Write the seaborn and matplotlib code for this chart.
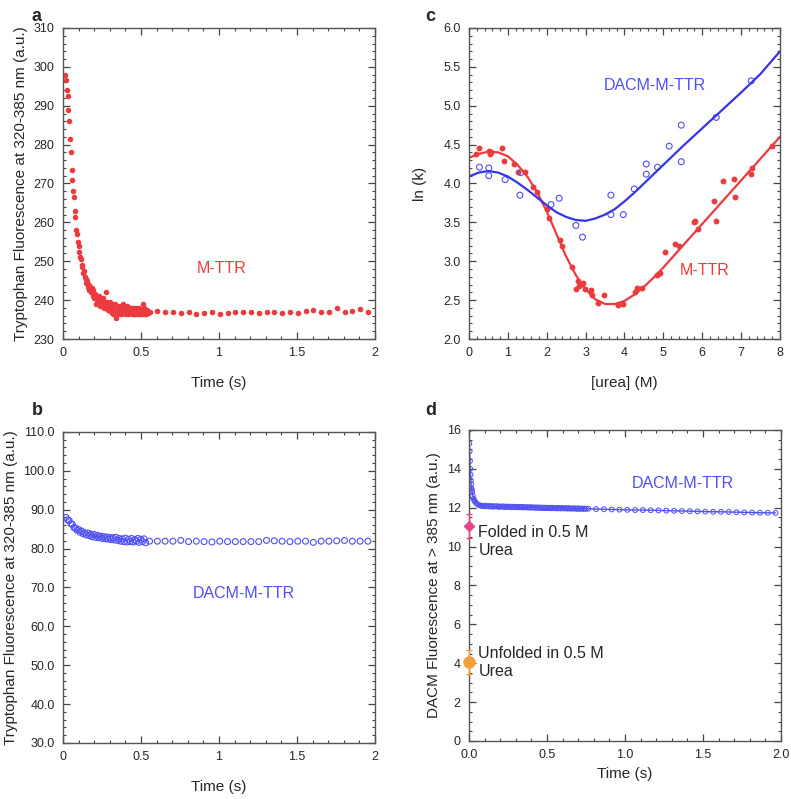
import numpy as np
import pandas as pd
import matplotlib
matplotlib.use("Agg")
import matplotlib.pyplot as plt
from matplotlib.ticker import MultipleLocator
import seaborn as sns

# colores
rojo = "#EC3B3F"
azul = "#4F4FF2"
azul_linea = "#3535E8"
rosa = "#E8448A"
naranja = "#F2A03C"

# ---------- panel a: M-TTR (triptofano) ----------
a_t = [0.015, 0.020, 0.025, 0.030, 0.035, 0.040, 0.045, 0.050, 0.055, 0.060,
       0.065, 0.070, 0.075, 0.080, 0.085, 0.090, 0.095, 0.100, 0.105, 0.110,
       0.115, 0.120, 0.125, 0.130, 0.135, 0.140, 0.145, 0.150, 0.155, 0.160,
       0.165, 0.170, 0.175, 0.180, 0.185, 0.190, 0.195, 0.200, 0.205, 0.210,
       0.215, 0.220, 0.225, 0.230, 0.235, 0.240, 0.245, 0.250, 0.255, 0.260,
       0.265, 0.270, 0.275, 0.280, 0.285, 0.290, 0.295, 0.300, 0.305, 0.310,
       0.315, 0.320, 0.325, 0.330, 0.335, 0.340, 0.345, 0.350, 0.355, 0.360,
       0.365, 0.370, 0.375, 0.380, 0.385, 0.390, 0.395, 0.400, 0.405, 0.410,
       0.415, 0.420, 0.425, 0.430, 0.435, 0.440, 0.445, 0.450, 0.455, 0.460,
       0.465, 0.470, 0.475, 0.480, 0.485, 0.490, 0.495, 0.500, 0.505, 0.510,
       0.515, 0.520, 0.525, 0.530, 0.535, 0.540, 0.545,
       0.555, 0.605, 0.655, 0.705, 0.755, 0.805, 0.855, 0.905, 0.955, 1.005,
       1.055, 1.105, 1.155, 1.205, 1.255, 1.305, 1.355, 1.405, 1.455, 1.505,
       1.555, 1.605, 1.655, 1.705, 1.755, 1.805, 1.855, 1.905, 1.955]
a_f = [298.0, 296.5, 294.0, 292.5, 289.0, 286.0, 281.5, 278.0, 273.5, 271.0,
       268.0, 266.5, 263.0, 261.5, 258.0, 257.0, 255.0, 254.0, 252.5, 251.0,
       250.5, 249.0, 248.5, 247.0, 247.5, 246.0, 245.5, 244.5, 245.0, 243.5,
       244.0, 242.5, 243.5, 242.0, 243.0, 241.0, 242.5, 240.5, 241.5, 239.0,
       241.0, 240.0, 239.5, 241.0, 238.5, 240.0, 239.5, 238.5, 240.5, 239.0,
       238.0, 239.5, 242.0, 238.5, 239.5, 237.5, 238.5, 239.5, 237.0, 238.0,
       239.0, 236.5, 238.5, 237.5, 239.0, 235.5, 237.0, 238.5, 236.5, 237.5,
       238.0, 236.5, 238.5, 237.0, 239.0, 237.5, 236.5, 238.0, 237.0, 238.5,
       237.5, 236.5, 238.0, 237.0, 238.0, 236.5, 237.5, 238.0, 236.5, 237.5,
       236.5, 238.0, 237.0, 236.5, 238.0, 237.0, 236.5, 237.5, 236.5, 239.0,
       237.0, 238.0, 236.5, 237.0, 236.5, 237.5, 236.8,
       236.9, 237.2, 236.9, 236.9, 236.8, 236.9, 236.5, 236.8, 236.9, 236.5,
       236.8, 237.0, 236.9, 236.9, 236.6, 236.9, 237.0, 236.6, 236.9, 236.8,
       237.2, 237.5, 236.9, 236.9, 237.9, 236.9, 237.2, 237.6, 237.0]

# ---------- panel b: DACM-M-TTR (triptofano) ----------
b_t = [0.02, 0.03, 0.04, 0.05, 0.06, 0.07, 0.08, 0.09, 0.10, 0.11,
       0.12, 0.13, 0.14, 0.15, 0.16, 0.17, 0.18, 0.19, 0.20, 0.21,
       0.22, 0.23, 0.24, 0.25, 0.26, 0.27, 0.28, 0.29, 0.30, 0.31,
       0.32, 0.33, 0.34, 0.35, 0.36, 0.37, 0.38, 0.39, 0.40, 0.41,
       0.42, 0.43, 0.44, 0.45, 0.46, 0.47, 0.48, 0.49, 0.50, 0.51,
       0.52, 0.53,
       0.555, 0.605, 0.655, 0.705, 0.755, 0.805, 0.855, 0.905, 0.955, 1.005,
       1.055, 1.105, 1.155, 1.205, 1.255, 1.305, 1.355, 1.405, 1.455, 1.505,
       1.555, 1.605, 1.655, 1.705, 1.755, 1.805, 1.855, 1.905, 1.955]
b_f = [88.0, 87.4, 87.2, 86.4, 86.2, 85.4, 85.3, 84.7, 84.9, 84.2,
       84.5, 83.8, 84.1, 83.5, 84.0, 83.3, 83.7, 83.0, 83.6, 82.9,
       83.4, 82.8, 83.2, 82.6, 83.1, 82.5, 83.0, 82.4, 82.9, 82.3,
       82.8, 82.2, 82.9, 82.1, 82.6, 81.9, 82.5, 81.8, 82.7, 81.7,
       82.4, 81.8, 82.6, 81.7, 82.3, 81.9, 82.6, 81.6, 82.4, 81.8,
       82.5, 81.5,
       81.9, 81.9, 81.9, 81.9, 82.1, 81.8, 81.9, 81.8, 81.7, 81.9,
       81.8, 81.8, 81.8, 81.8, 81.8, 82.1, 82.0, 81.9, 81.8, 81.9,
       81.9, 81.6, 81.9, 81.9, 82.0, 82.1, 81.9, 81.9, 81.9]

# ---------- panel c: ln(k) vs urea ----------
c_urea_m = [0.18, 0.27, 0.51, 0.54, 0.57, 0.84, 0.89, 1.15, 1.25, 1.44,
            1.64, 1.74, 2.00, 2.05, 2.35, 2.39, 2.65, 2.75, 2.80, 2.84,
            2.90, 2.94, 2.99, 3.14, 3.17, 3.33, 3.48, 3.83, 3.97, 4.28,
            4.31, 4.44, 4.83, 4.92, 5.04, 5.31, 5.41, 5.79, 5.81, 5.88,
            6.30, 6.35, 6.54, 6.81, 6.83, 7.26, 7.29, 7.80]
c_lnk_m = [4.38, 4.46, 4.42, 4.38, 4.40, 4.46, 4.29, 4.25, 4.15, 4.15,
           3.96, 3.89, 3.67, 3.55, 3.27, 3.20, 2.93, 2.64, 2.74, 2.68,
           2.71, 2.72, 2.64, 2.63, 2.57, 2.46, 2.56, 2.44, 2.45, 2.60,
           2.65, 2.65, 2.82, 2.85, 3.12, 3.22, 3.20, 3.51, 3.52, 3.41,
           3.78, 3.52, 4.03, 4.06, 3.83, 4.12, 4.20, 4.48]
c_urea_d = [0.27, 0.51, 0.51, 0.93, 1.31, 1.33, 2.11, 2.32, 2.75, 2.92,
            3.65, 3.65, 3.97, 4.25, 4.56, 4.56, 4.85, 5.15, 5.46, 5.46,
            6.36, 7.26]
c_lnk_d = [4.21, 4.20, 4.10, 4.05, 3.85, 4.14, 3.73, 3.81, 3.46, 3.31,
           3.85, 3.60, 3.60, 3.93, 4.25, 4.12, 4.21, 4.48, 4.75, 4.28,
           4.85, 5.32]
# curvas de ajuste
fit_urea = [0.0, 0.25, 0.5, 0.75, 1.0, 1.25, 1.5, 1.75, 2.0, 2.25, 2.5, 2.75,
            3.0, 3.25, 3.5, 3.75, 4.0, 4.25, 4.5, 4.75, 5.0, 5.5, 6.0, 6.5,
            7.0, 7.5, 8.0]
fit_m = [4.33, 4.38, 4.41, 4.40, 4.35, 4.24, 4.09, 3.89, 3.64, 3.35, 3.06, 2.82,
         2.64, 2.51, 2.45, 2.45, 2.49, 2.57, 2.67, 2.79, 2.92, 3.20, 3.48, 3.76,
         4.04, 4.32, 4.60]
fit_d = [4.09, 4.14, 4.16, 4.14, 4.09, 4.01, 3.92, 3.82, 3.72, 3.63, 3.57, 3.53,
         3.52, 3.55, 3.60, 3.67, 3.77, 3.88, 4.00, 4.12, 4.24, 4.48, 4.71, 4.94,
         5.17, 5.41, 5.70]

# ---------- panel d: DACM fluorescence ----------
d_t = [0.000, 0.002, 0.004, 0.006, 0.008, 0.010, 0.012, 0.014, 0.016, 0.018,
       0.020, 0.025, 0.030, 0.035, 0.040, 0.050, 0.060, 0.070,
       0.08, 0.09, 0.10, 0.11, 0.12, 0.13, 0.14, 0.15, 0.16, 0.17,
       0.18, 0.19, 0.20, 0.21, 0.22, 0.23, 0.24, 0.25, 0.26, 0.27,
       0.28, 0.29, 0.30, 0.31, 0.32, 0.33, 0.34, 0.35, 0.36, 0.37,
       0.38, 0.39, 0.40, 0.41, 0.42, 0.43, 0.44, 0.45, 0.46, 0.47,
       0.48, 0.49, 0.50, 0.51, 0.52, 0.53, 0.54, 0.55, 0.56, 0.57,
       0.58, 0.59, 0.60, 0.61, 0.62, 0.63, 0.64, 0.65, 0.66, 0.67,
       0.68, 0.69, 0.70, 0.71, 0.72, 0.73, 0.74, 0.75,
       0.765, 0.815, 0.865, 0.915, 0.965, 1.015, 1.065, 1.115, 1.165, 1.215,
       1.265, 1.315, 1.365, 1.415, 1.465, 1.515, 1.565, 1.615, 1.665, 1.715,
       1.765, 1.815, 1.865, 1.915, 1.965]
d_f = [16.0, 15.3, 14.9, 14.4, 14.0, 13.7, 13.4, 13.2, 13.0, 12.9,
       12.8, 12.6, 12.45, 12.35, 12.3, 12.2, 12.15, 12.12,
       12.10, 12.08, 12.11, 12.07, 12.09, 12.06, 12.09, 12.05, 12.08, 12.06,
       12.08, 12.04, 12.07, 12.05, 12.07, 12.03, 12.06, 12.04, 12.06, 12.02,
       12.05, 12.03, 12.05, 12.02, 12.04, 12.02, 12.04, 12.01, 12.03, 12.01,
       12.03, 12.00, 12.03, 12.00, 12.02, 11.99, 12.02, 11.99, 12.01, 11.98,
       12.01, 11.98, 12.00, 11.98, 12.00, 11.97, 12.00, 11.97, 11.99, 11.96,
       11.99, 11.96, 11.98, 11.96, 11.98, 11.95, 11.98, 11.95, 11.97, 11.95,
       11.97, 11.94, 11.97, 11.94, 11.96, 11.94, 11.96, 11.94,
       11.95, 11.93, 11.92, 11.91, 11.90, 11.89, 11.88, 11.88, 11.87, 11.86,
       11.85, 11.84, 11.83, 11.82, 11.81, 11.80, 11.79, 11.79, 11.78, 11.77,
       11.76, 11.75, 11.74, 11.74, 11.73]
ref_labels = ["Folded in 0.5 M\nUrea", "Unfolded in 0.5 M\nUrea"]
ref_val = [11.06, 4.07]
ref_err = [0.6, 0.6]

sns.set_style("ticks")
plt.rcParams["font.family"] = ["Liberation Sans", "DejaVu Sans"]

fig = plt.figure(figsize=(7.91, 7.99), dpi=100)
ax_a = fig.add_axes([0.0796, 0.5757, 0.3944, 0.3893])
ax_c = fig.add_axes([0.5929, 0.5757, 0.3932, 0.3893])
ax_b = fig.add_axes([0.0796, 0.0701, 0.3944, 0.3893])
ax_d = fig.add_axes([0.5929, 0.0726, 0.3944, 0.3893])


def estilo(ax, xmaj, xmin, ymaj, ymin):
    ax.xaxis.set_major_locator(MultipleLocator(xmaj))
    ax.xaxis.set_minor_locator(MultipleLocator(xmin))
    ax.yaxis.set_major_locator(MultipleLocator(ymaj))
    ax.yaxis.set_minor_locator(MultipleLocator(ymin))
    ax.tick_params(which="both", direction="in", top=True, right=True,
                   color="#444444", labelsize=9, pad=6)
    ax.tick_params(which="major", length=5, width=0.9)
    ax.tick_params(which="minor", length=2.5, width=0.8)
    for s in ax.spines.values():
        s.set_color("#555555")
        s.set_linewidth(1.0)


# a
sns.scatterplot(x=a_t, y=a_f, ax=ax_a, color=rojo, s=16, linewidth=0)
ax_a.set_xlim(0, 2)
ax_a.set_ylim(230, 310)
estilo(ax_a, 0.5, 0.1, 10, 2)
ax_a.set_xticks([0, 0.5, 1, 1.5, 2], ["0", "0.5", "1", "1.5", "2"])
ax_a.set_xlabel("Time (s)", fontsize=11, labelpad=12)
ax_a.set_ylabel("Tryptophan Fluorescence at 320-385 nm (a.u.)", fontsize=11)
ax_a.text(1.02, 248.2, "M-TTR", color=rojo, fontsize=11.5, ha="center", va="center")

# b
sns.scatterplot(x=b_t, y=b_f, ax=ax_b, s=18, facecolor="none", edgecolor=azul, linewidth=0.8)
ax_b.set_xlim(0, 2)
ax_b.set_ylim(30, 110)
estilo(ax_b, 0.5, 0.1, 10, 2)
ax_b.set_xticks([0, 0.5, 1, 1.5, 2], ["0", "0.5", "1", "1.5", "2"])
ax_b.set_yticks(np.arange(30, 111, 10), [f"{v:.1f}" for v in np.arange(30, 111, 10)])
ax_b.set_xlabel("Time (s)", fontsize=11, labelpad=12)
ax_b.set_ylabel("Tryptophan Fluorescence at 320-385 nm (a.u.)", fontsize=11)
ax_b.text(1.16, 68.5, "DACM-M-TTR", color=azul, fontsize=11.5, ha="center", va="center")

# c
sns.lineplot(x=fit_urea, y=fit_m, ax=ax_c, color=rojo, linewidth=1.6)
sns.lineplot(x=fit_urea, y=fit_d, ax=ax_c, color=azul_linea, linewidth=1.6)
sns.scatterplot(x=c_urea_m, y=c_lnk_m, ax=ax_c, color=rojo, s=18, linewidth=0)
sns.scatterplot(x=c_urea_d, y=c_lnk_d, ax=ax_c, s=18, facecolor="none", edgecolor=azul, linewidth=0.8)
ax_c.set_xlim(0, 8)
ax_c.set_ylim(2, 6)
estilo(ax_c, 1, 0.2, 0.5, 0.1)
ax_c.yaxis.set_major_formatter("{x:.1f}")
ax_c.set_xlabel("[urea] (M)", fontsize=11, labelpad=12)
ax_c.set_ylabel("ln (k)", fontsize=11, labelpad=12)
ax_c.text(4.77, 5.26, "DACM-M-TTR", color=azul, fontsize=11.5, ha="center", va="center")
ax_c.text(6.05, 2.88, "M-TTR", color=rojo, fontsize=11.5, ha="center", va="center")

# d
sns.lineplot(x=d_t, y=d_f, ax=ax_d, color=azul, linewidth=1.0)
sns.scatterplot(x=d_t, y=d_f, ax=ax_d, s=12, facecolor="none", edgecolor=azul, linewidth=0.7)
ax_d.errorbar([0.0], [ref_val[0]], yerr=[ref_err[0]], fmt="D", color=rosa, ms=5,
              capsize=2, elinewidth=1, clip_on=False, zorder=5)
ax_d.errorbar([0.0], [ref_val[1]], yerr=[ref_err[1]], fmt="o", color=naranja, ms=8,
              capsize=2, elinewidth=1, clip_on=False, zorder=5)
ax_d.text(0.06, 10.25, ref_labels[0], fontsize=11.5, ha="left", va="center", linespacing=1.25)
ax_d.text(0.06, 4.05, ref_labels[1], fontsize=11.5, ha="left", va="center", linespacing=1.25)
ax_d.set_xlim(0, 2)
ax_d.set_ylim(0, 16)
estilo(ax_d, 0.5, 0.1, 2, 0.5)
ax_d.xaxis.set_major_formatter("{x:.1f}")
ax_d.set_xlabel("Time (s)", fontsize=11, labelpad=4)
ax_d.set_ylabel("DACM Fluorescence at > 385 nm (a.u.)", fontsize=11)
ax_d.text(1.37, 13.25, "DACM-M-TTR", color=azul, fontsize=11.5, ha="center", va="center")

# letras de panel
for letra, (x, y) in zip("abcd", [(0.040, 0.99), (0.040, 0.497), (0.538, 0.99), (0.538, 0.497)]):
    fig.text(x, y, letra, fontsize=13, fontweight="bold", va="top")

fig.savefig("out.png", dpi=100)
